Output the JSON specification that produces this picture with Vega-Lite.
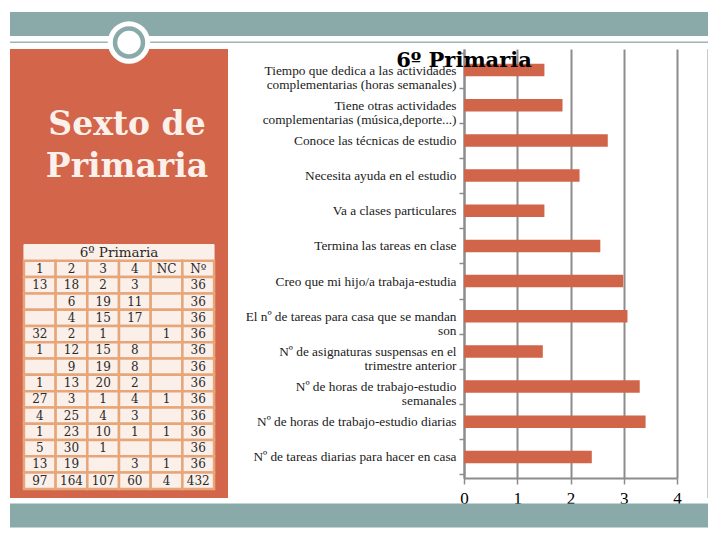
{
  "$schema": "https://vega.github.io/schema/vega-lite/v6.json",
  "background": "white",
  "padding": {"left": 10, "top": 12, "right": 0, "bottom": 0},
  "config": {"view": {"stroke": null}},
  "columns": 4,
  "spacing": {"row": 5.5, "column": 0},
  "bounds": "flush",
  "datasets": {
    "empty": [],
    "table": [
      {"row": "H", "c1": "1", "c2": "2", "c3": "3", "c4": "4", "c5": "NC", "c6": "Nº"},
      {"row": "r1", "c1": "13", "c2": "18", "c3": "2", "c4": "3", "c5": "", "c6": "36"},
      {"row": "r2", "c1": "", "c2": "6", "c3": "19", "c4": "11", "c5": "", "c6": "36"},
      {"row": "r3", "c1": "", "c2": "4", "c3": "15", "c4": "17", "c5": "", "c6": "36"},
      {"row": "r4", "c1": "32", "c2": "2", "c3": "1", "c4": "", "c5": "1", "c6": "36"},
      {"row": "r5", "c1": "1", "c2": "12", "c3": "15", "c4": "8", "c5": "", "c6": "36"},
      {"row": "r6", "c1": "", "c2": "9", "c3": "19", "c4": "8", "c5": "", "c6": "36"},
      {"row": "r7", "c1": "1", "c2": "13", "c3": "20", "c4": "2", "c5": "", "c6": "36"},
      {"row": "r8", "c1": "27", "c2": "3", "c3": "1", "c4": "4", "c5": "1", "c6": "36"},
      {"row": "r9", "c1": "4", "c2": "25", "c3": "4", "c4": "3", "c5": "", "c6": "36"},
      {"row": "r10", "c1": "1", "c2": "23", "c3": "10", "c4": "1", "c5": "1", "c6": "36"},
      {"row": "r11", "c1": "5", "c2": "30", "c3": "1", "c4": "", "c5": "", "c6": "36"},
      {"row": "r12", "c1": "13", "c2": "19", "c3": "", "c4": "3", "c5": "1", "c6": "36"},
      {"row": "Tot", "c1": "97", "c2": "164", "c3": "107", "c4": "60", "c5": "4", "c6": "432"}
    ],
    "bars": [
      {"item": "Tiempo que dedica a las actividades|complementarias (horas semanales)", "value": 1.51},
      {"item": "Tiene otras actividades|complementarias (música,deporte...)", "value": 1.85},
      {"item": "Conoce las técnicas de estudio", "value": 2.70},
      {"item": "Necesita ayuda en el estudio", "value": 2.17},
      {"item": "Va a clases particulares", "value": 1.51},
      {"item": "Termina las tareas en clase", "value": 2.56},
      {"item": "Creo que mi hijo/a trabaja-estudia", "value": 2.99},
      {"item": "El nº de tareas para casa que se mandan|son", "value": 3.07},
      {"item": "Nº de asignaturas suspensas en el|trimestre anterior", "value": 1.48},
      {"item": "Nº de horas de trabajo-estudio|semanales", "value": 3.30},
      {"item": "Nº de horas de trabajo-estudio diarias", "value": 3.41},
      {"item": "Nº de tareas diarias para hacer en casa", "value": 2.40}
    ]
  },
  "concat": [
    {"width": 218, "height": 24, "view": {"fill": "#8AAAAA"}, "data": {"name": "empty"}, "mark": "text", "encoding": {}},
    {"width": 236, "height": 24, "view": {"fill": "#8AAAAA"}, "data": {"name": "empty"}, "mark": "text", "encoding": {}},
    {"width": 243, "height": 24, "view": {"fill": "#8AAAAA"}, "data": {"name": "empty"}, "mark": "text", "encoding": {}},
    {"width": 1, "height": 24, "view": {"fill": "#8AAAAA"}, "data": {"name": "empty"}, "mark": "text", "encoding": {}},

    {"width": 218, "height": 1.5, "view": {"fill": "#9DB4B4"}, "data": {"name": "empty"}, "mark": "text", "encoding": {}},
    {"width": 236, "height": 1.5, "view": {"fill": "#9DB4B4"}, "data": {"name": "empty"}, "mark": "text", "encoding": {}},
    {"width": 243, "height": 1.5, "view": {"fill": "#9DB4B4"}, "data": {"name": "empty"}, "mark": "text", "encoding": {}},
    {"width": 1, "height": 1.5, "view": {"fill": "#9DB4B4"}, "data": {"name": "empty"}, "mark": "text", "encoding": {}},

    {
      "width": 218, "height": 449,
      "view": {"fill": "#D3654A"},
      "encoding": {
        "y": {"field": "row", "type": "nominal", "axis": null,
          "scale": {"type": "band", "domain": ["s1","s2","s3","s4","s5","s6","s7","s8","s9","s10","s11","s12","T","H","r1","r2","r3","r4","r5","r6","r7","r8","r9","r10","r11","r12","Tot"], "paddingInner": 0, "paddingOuter": 0.28, "align": 0}}
      },
      "layer": [
        {
          "data": {"values": [{"row": "s5", "t": "Sexto de\nPrimaria"}]},
          "mark": {"type": "text", "font": "DejaVu Serif", "fontWeight": "bold", "fontSize": 33, "color": "#FBF0EA", "lineBreak": "\n", "lineHeight": 42, "baseline": "middle", "align": "center", "dx": 8, "dy": 3},
          "encoding": {"text": {"field": "t", "type": "nominal"}}
        },
        {
          "data": {"values": [{"row": "T", "col": "c1"}, {"row": "T", "col": "c2"}, {"row": "T", "col": "c3"}, {"row": "T", "col": "c4"}, {"row": "T", "col": "c5"}, {"row": "T", "col": "c6"}]},
          "mark": {"type": "rect", "fill": "#FAEFE9", "stroke": "#FAEFE9", "strokeWidth": 1},
          "encoding": {
            "x": {"field": "col", "type": "nominal", "axis": null, "scale": {"type": "band", "domain": ["c1","c2","c3","c4","c5","c6"], "paddingInner": 0, "paddingOuter": 0.44}}
          }
        },
        {
          "data": {"name": "table"},
          "transform": [{"fold": ["c1","c2","c3","c4","c5","c6"], "as": ["col", "val"]}],
          "mark": {"type": "rect", "fill": "#FAEFE9", "stroke": "#E7A679", "strokeWidth": 2.5},
          "encoding": {
            "x": {"field": "col", "type": "nominal", "axis": null, "scale": {"type": "band", "domain": ["c1","c2","c3","c4","c5","c6"], "paddingInner": 0, "paddingOuter": 0.44}}
          }
        },
        {
          "data": {"name": "table"},
          "transform": [{"fold": ["c1","c2","c3","c4","c5","c6"], "as": ["col", "val"]}],
          "mark": {"type": "text", "font": "DejaVu Serif", "fontSize": 12, "color": "#2A2A2A", "baseline": "middle", "align": "center"},
          "encoding": {
            "x": {"field": "col", "type": "nominal", "axis": null, "scale": {"type": "band", "domain": ["c1","c2","c3","c4","c5","c6"], "paddingInner": 0, "paddingOuter": 0.44}},
            "text": {"field": "val", "type": "nominal"}
          }
        },
        {
          "data": {"values": [{"row": "T", "t": "6º Primaria"}]},
          "mark": {"type": "text", "font": "DejaVu Serif", "fontSize": 13.5, "color": "#2A2A2A", "baseline": "middle", "align": "center"},
          "encoding": {"text": {"field": "t", "type": "nominal"}}
        },
        {
          "data": {"values": [{"row": "s1"}]},
          "mark": {"type": "point", "shape": "circle", "filled": true, "color": "white", "opacity": 1, "size": 1810, "xOffset": 10, "yOffset": -14.6},
          "encoding": {}
        },
        {
          "data": {"values": [{"row": "s1"}]},
          "mark": {"type": "point", "shape": "circle", "filled": false, "color": "#8AAAAA", "strokeWidth": 4.5, "opacity": 1, "size": 780, "xOffset": 10, "yOffset": -14.6},
          "encoding": {}
        }
      ]
    },
    {"width": 236, "height": 449, "data": {"name": "empty"}, "mark": "text", "encoding": {}},
    {
      "width": 213, "height": 429,
      "data": {"name": "bars"},
      "title": {"text": "6º Primaria", "font": "DejaVu Serif", "fontWeight": "bold", "fontSize": 21, "color": "black", "anchor": "start", "align": "center", "frame": "group", "offset": -27, "dy": 18.5, "baseline": "alphabetic"},
      "mark": {"type": "bar", "color": "#D0654A", "size": 12.5},
      "encoding": {
        "y": {"field": "item", "type": "nominal", "sort": null,
          "scale": {"paddingInner": 0, "paddingOuter": 0.1},
          "axis": {"title": null, "domain": true, "domainColor": "#8C8C8C", "domainWidth": 2, "ticks": true, "tickBand": "extent", "tickColor": "#8C8C8C", "tickWidth": 1.5, "tickSize": 5, "labelFont": "Liberation Serif", "labelFontSize": 13.3, "labelColor": "#1A1A1A", "labelPadding": 3, "labelLimit": 300, "labelExpr": "split(datum.label, '|')", "labelLineHeight": 14, "grid": false}},
        "x": {"field": "value", "type": "quantitative",
          "scale": {"domain": [0, 4], "nice": false},
          "axis": {"title": null, "values": [0, 1, 2, 3, 4], "grid": true, "gridColor": "#8C8C8C", "gridWidth": 2, "domainColor": "#8C8C8C", "domainWidth": 2, "tickColor": "#8C8C8C", "tickWidth": 1.5, "tickSize": 6, "labelFont": "Liberation Serif", "labelFontSize": 17, "labelColor": "black", "labelPadding": 6, "labelFlush": false}}
      }
    },
    {"width": 1, "height": 449, "view": {"fill": "#C9C9C9"}, "data": {"name": "empty"}, "mark": "text", "encoding": {}},

    {"width": 218, "height": 24, "view": {"fill": "#8AAAAA"}, "data": {"name": "empty"}, "mark": "text", "encoding": {}},
    {"width": 236, "height": 24, "view": {"fill": "#8AAAAA"}, "data": {"name": "empty"}, "mark": "text", "encoding": {}},
    {"width": 243, "height": 24, "view": {"fill": "#8AAAAA"}, "data": {"name": "empty"}, "mark": "text", "encoding": {}},
    {"width": 1, "height": 24, "view": {"fill": "#8AAAAA"}, "data": {"name": "empty"}, "mark": "text", "encoding": {}}
  ]
}
